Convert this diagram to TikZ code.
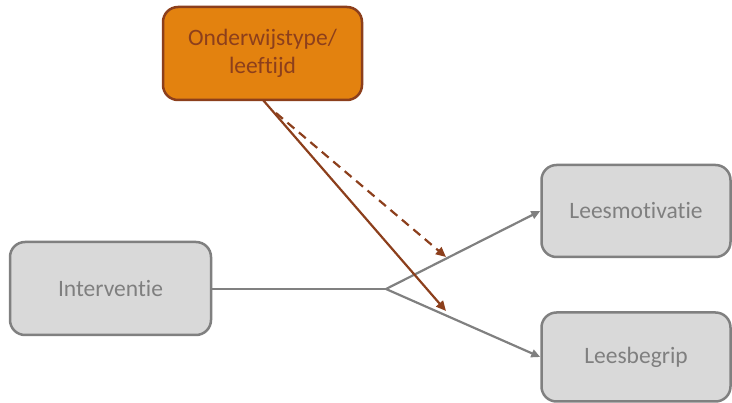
\documentclass[tikz,border=0pt]{standalone}
\usepackage{fontspec}
\setmainfont{Carlito}[Ligatures={NoCommon}]
\usetikzlibrary{arrows.meta}
\definecolor{boxgray}{HTML}{D9D9D9}
\definecolor{linegray}{HTML}{808080}
\definecolor{textgray}{HTML}{7F7F7F}
\definecolor{orangefill}{HTML}{E3820F}
\definecolor{brownline}{HTML}{8C3F1C}
\tikzset{
  graybox/.style={draw=linegray, line width=2.5pt, fill=boxgray, rounded corners=15pt,
    text=textgray, font=\fontsize{23.5}{28}\selectfont, align=center, inner sep=0pt},
  orangebox/.style={draw=brownline, line width=2.5pt, fill=orangefill, rounded corners=15pt,
    text=brownline, font=\fontsize{23.5}{28}\selectfont, align=center, inner sep=0pt},
  grayline/.style={draw=linegray, line width=2.2pt},
  grayarrow/.style={grayline, -{Triangle[length=9pt,width=8pt]}},
  brownarrow/.style={draw=brownline, line width=2.2pt, -{Triangle[length=10pt,width=9pt]}},
}
\begin{document}
\begin{tikzpicture}[x=1pt,y=-1pt]
\useasboundingbox (0,0) rectangle (732,403);
\node[orangebox, minimum width=199pt, minimum height=93pt] (o) at (262.5,53.5) {Onderwijstype/\\leeftijd};
\node[graybox, minimum width=201pt, minimum height=93pt] (i) at (110.5,288.5) {Interventie};
\node[graybox, minimum width=189pt, minimum height=92pt] (m) at (636,211) {Leesmotivatie};
\node[graybox, minimum width=189pt, minimum height=89pt] (b) at (636,357) {Leesbegrip};
\coordinate (j) at (386,289);
\coordinate (tm) at (446,257);
\coordinate (tb) at (446,311);
\coordinate (ds) at (276,113);
\coordinate (ss) at (263,100);
\draw[grayline] (i.east |- j) -- (j);
\draw[grayarrow] (j) -- (m.west);
\draw[grayarrow] (j) -- (b.west);
\draw[brownarrow] (ss) -- (tb);
\draw[brownarrow, dash pattern=on 9pt off 6pt] (ds) -- (tm);
\end{tikzpicture}
\end{document}
